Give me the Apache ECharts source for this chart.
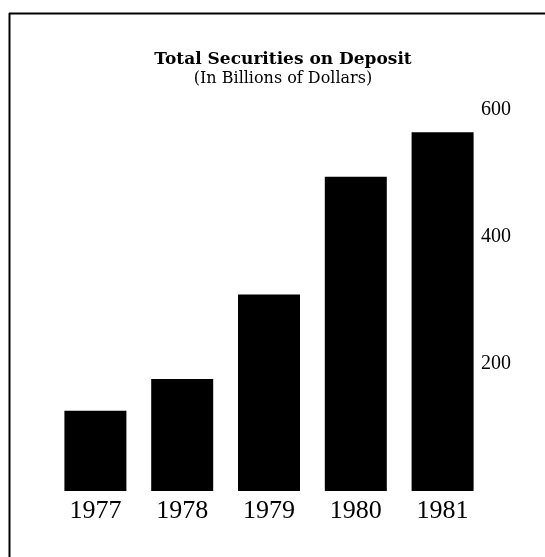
<!DOCTYPE html>
<html>
<head>
<meta charset="utf-8">
<script src="https://cdn.jsdelivr.net/npm/echarts@6/dist/echarts.min.js"></script>
<style>
  html, body { margin: 0; padding: 0; background: #fff; }
  #chart { width: 545px; height: 557px; }
</style>
</head>
<body>
<div id="chart"></div>
<script>
// Year-end totals, billions of dollars
const years = ['1977', '1978', '1979', '1980', '1981'];
const deposits = [126, 176, 309, 494, 564];

const serif = '"Liberation Serif", "DejaVu Serif", serif';
const wideSerif = '"DejaVu Serif", "Liberation Serif", serif';

const chart = echarts.init(document.getElementById('chart'), null, { renderer: 'canvas' });

chart.setOption({
  backgroundColor: '#ffffff',
  animation: false,
  title: {
    text: 'Total Securities on Deposit',
    subtext: '(In Billions of Dollars)',
    left: 278,
    textAlign: 'center',
    top: 46,
    itemGap: 3,
    textStyle: { fontFamily: wideSerif, fontWeight: 'bold', fontSize: 17, color: '#000' },
    subtextStyle: { fontFamily: wideSerif, fontSize: 16, color: '#000' }
  },
  grid: { left: 52, right: 59, top: 109.4, bottom: 66, containLabel: false },
  xAxis: {
    type: 'category',
    data: years,
    axisLine: { show: false },
    axisTick: { show: false },
    axisLabel: { fontFamily: serif, fontSize: 26, color: '#000', margin: 7 }
  },
  yAxis: {
    type: 'value',
    position: 'right',
    min: 0,
    max: 600,
    interval: 200,
    splitLine: { show: false },
    axisLine: { show: false },
    axisTick: { show: false },
    axisLabel: {
      showMinLabel: false,
      fontFamily: serif,
      fontSize: 20,
      color: '#000',
      margin: -5,
      verticalAlign: 'middle',
      padding: [0, 0, 10, 0]
    }
  },
  series: [{
    type: 'bar',
    data: deposits,
    barWidth: 62,
    itemStyle: { color: '#000' }
  }],
  graphic: [
    { type: 'line', shape: { x1: 9, y1: 13.5, x2: 545, y2: 13.5 }, style: { stroke: '#000', lineWidth: 2 } },
    { type: 'line', shape: { x1: 9.5, y1: 13, x2: 9.5, y2: 557 }, style: { stroke: '#000', lineWidth: 2 } }
  ]
});
</script>
</body>
</html>
